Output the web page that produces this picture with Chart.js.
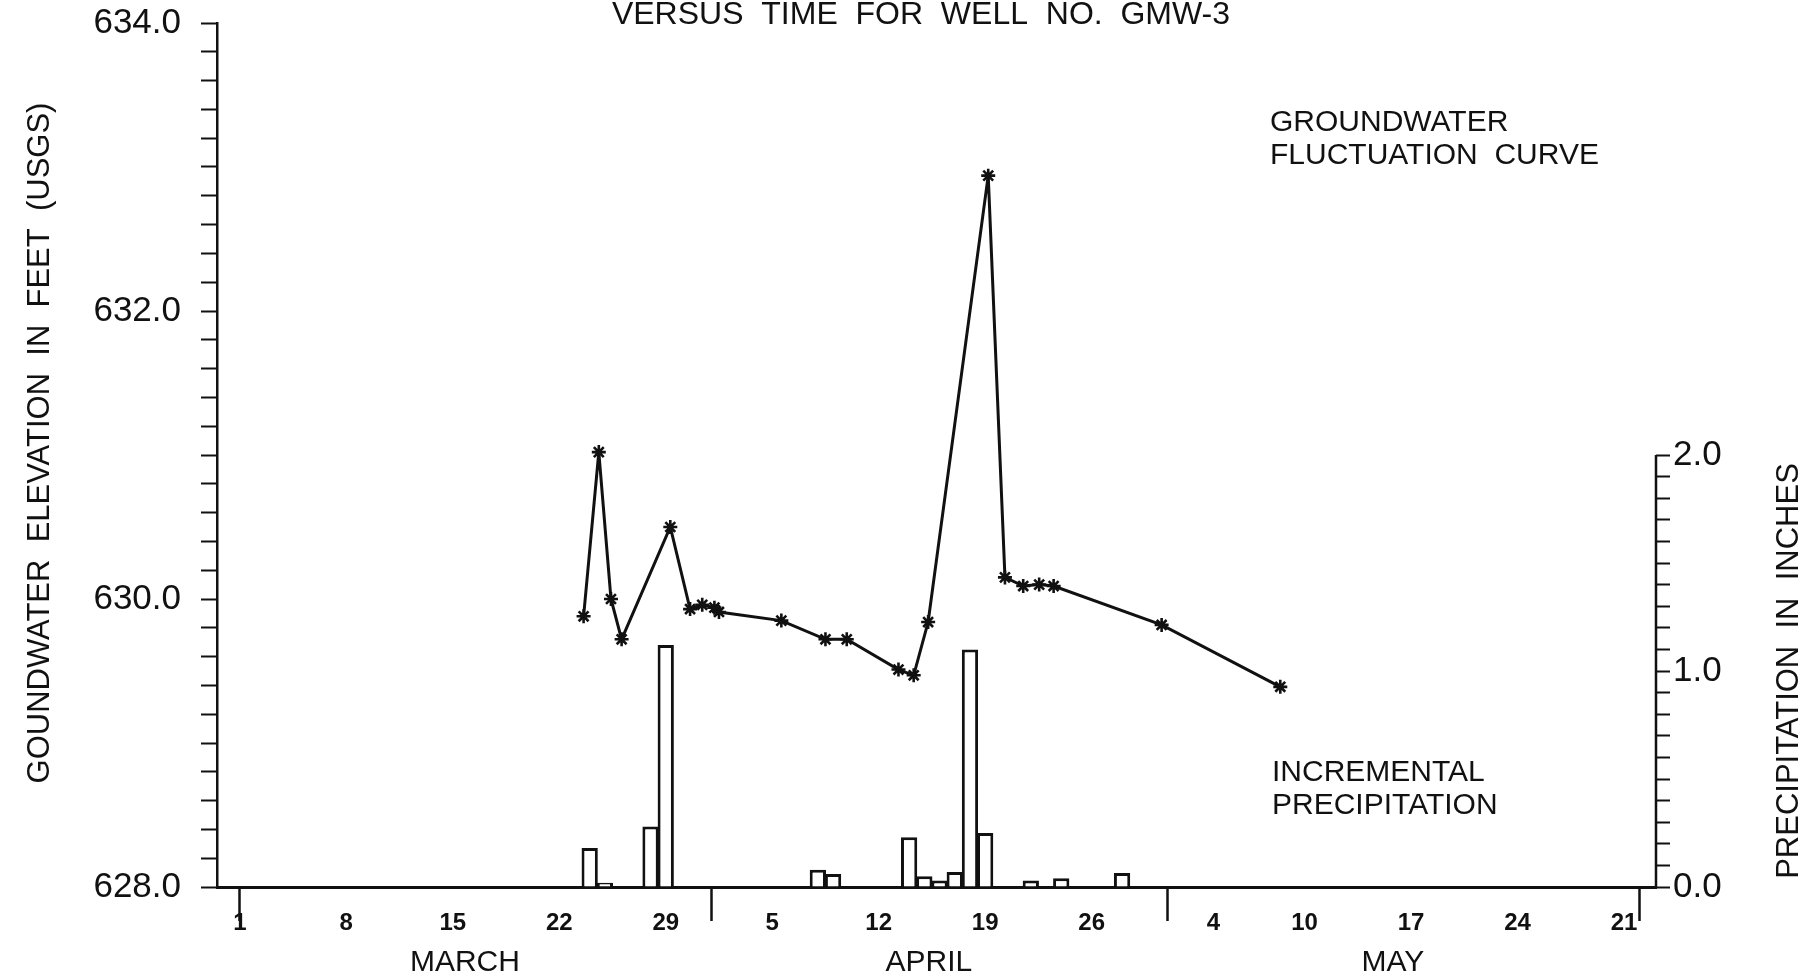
<!DOCTYPE html>
<html>
<head>
<meta charset="utf-8">
<title>Groundwater elevation versus time - GMW-3</title>
<script src="https://cdn.jsdelivr.net/npm/chart.js@4.4.1/dist/chart.umd.min.js"></script>
<style>
  html, body { margin: 0; padding: 0; background: #fff; }
  #wrap { width: 1813px; height: 980px; }
</style>
</head>
<body>
<div id="wrap"><canvas id="chart" width="1813" height="980"></canvas></div>
<script>
// x values are days counted from March 1 (= day 0)
const wellDays = [22.6, 23.6, 24.4, 25.1, 28.3, 29.6, 30.4, 31.2, 31.5, 35.6, 38.5, 39.9, 43.3, 44.3, 45.25, 49.2, 50.3, 51.5, 52.55, 53.5, 60.6, 68.4];
const wellElev = [629.88, 631.02, 630.00, 629.72, 630.50, 629.93, 629.96, 629.94, 629.91, 629.85, 629.72, 629.72, 629.51, 629.47, 629.84, 632.94, 630.15, 630.09, 630.10, 630.09, 629.82, 629.39];

const rainDays = [23, 24, 27, 28, 38, 39, 44, 45, 46, 47, 48, 49, 52, 54, 58];
const rainInches = [0.18, 0.02, 0.28, 1.12, 0.08, 0.06, 0.23, 0.05, 0.03, 0.07, 1.10, 0.25, 0.03, 0.04, 0.065];

const dayTicks = [0, 7, 14, 21, 28, 35, 42, 49, 56, 64, 70, 77, 84, 91];
const dayLabels = ['1', '8', '15', '22', '29', '5', '12', '19', '26', '4', '10', '17', '24', '21'];
const monthEdges = [0, 31, 61, 92];
const monthNames = ['MARCH', 'APRIL', 'MAY'];

const FONT = '"Liberation Sans", Arial, sans-serif';
const INK = '#111';

Chart.defaults.font.family = FONT;
Chart.defaults.color = INK;

const isMultiple = (v, step) => Math.abs(v / step - Math.round(v / step)) < 1e-6;

// extra texts and the short right axis line
const decor = {
  id: 'decor',
  afterDraw(chart) {
    const { ctx, chartArea, scales } = chart;
    const x = scales.x, y2 = scales.y2;
    ctx.save();
    ctx.strokeStyle = INK;
    ctx.lineWidth = 2.5;
    ctx.beginPath();
    ctx.moveTo(chartArea.right, y2.getPixelForValue(0));
    ctx.lineTo(chartArea.right, y2.getPixelForValue(2));
    ctx.stroke();

    ctx.fillStyle = INK;
    ctx.textBaseline = 'middle';

    ctx.font = '30px ' + FONT;
    ctx.textAlign = 'center';
    monthNames.forEach((m, i) => {
      ctx.fillText(m, x.getPixelForValue((monthEdges[i] + monthEdges[i + 1]) / 2 - 0.7), 963);
    });

    ctx.font = '32px ' + FONT;
    ctx.textBaseline = 'alphabetic';
    ctx.fillText('VERSUS  TIME  FOR  WELL  NO.  GMW-3', 921, 24);

    ctx.font = '31px ' + FONT;
    ctx.textBaseline = 'middle';
    ctx.save();
    ctx.translate(40, 443);
    ctx.rotate(-Math.PI / 2);
    ctx.fillText('GOUNDWATER  ELEVATION  IN  FEET  (USGS)', 0, 0);
    ctx.restore();

    ctx.save();
    ctx.translate(1789, (y2.getPixelForValue(0) + y2.getPixelForValue(2)) / 2);
    ctx.rotate(-Math.PI / 2);
    ctx.fillText('PRECIPITATION  IN  INCHES', 0, 0);
    ctx.restore();

    ctx.font = '30px ' + FONT;
    ctx.textAlign = 'left';
    ctx.fillText('GROUNDWATER', 1270, 123);
    ctx.fillText('FLUCTUATION  CURVE', 1270, 156);
    ctx.fillText('INCREMENTAL', 1272, 773);
    ctx.fillText('PRECIPITATION', 1272, 806);
    ctx.restore();
  }
};

new Chart(document.getElementById('chart'), {
  type: 'bar',
  data: {
    datasets: [
      {
        type: 'line',
        label: 'Groundwater fluctuation curve',
        data: wellDays.map((d, i) => ({ x: d, y: wellElev[i] })),
        yAxisID: 'y',
        borderColor: INK,
        borderWidth: 3,
        tension: 0,
        pointStyle: 'star',
        pointRadius: 7,
        pointBorderWidth: 2.6,
        pointBorderColor: INK,
        pointBackgroundColor: INK,
        order: 1
      },
      {
        type: 'bar',
        label: 'Incremental precipitation',
        data: rainDays.map((d, i) => ({ x: d, y: rainInches[i] })),
        yAxisID: 'y2',
        backgroundColor: '#fff',
        borderColor: INK,
        borderWidth: 3,
        barPercentage: 1.07,
        categoryPercentage: 1,
        order: 2
      }
    ]
  },
  options: {
    responsive: false,
    maintainAspectRatio: false,
    devicePixelRatio: 1,
    animation: false,
    layout: { padding: { top: 23, left: 0, right: 0, bottom: 0 } },
    plugins: {
      legend: { display: false },
      tooltip: { enabled: false }
    },
    scales: {
      x: {
        type: 'linear',
        min: -1.5,
        max: 93.1,
        offset: false,
        afterBuildTicks(s) {
          const vals = [...new Set(dayTicks.concat(monthEdges))].sort((a, b) => a - b);
          s.ticks = vals.map(v => ({ value: v }));
        },
        afterFit(s) { s.height = 93; s.paddingLeft = 0; s.paddingRight = 0; },
        ticks: {
          autoSkip: false,
          maxRotation: 0,
          padding: -12,
          color: INK,
          font: { size: 24, weight: 'bold' },
          callback(v) {
            const i = dayTicks.indexOf(v);
            return i < 0 ? '' : dayLabels[i];
          }
        },
        grid: {
          offset: false,
          drawOnChartArea: false,
          tickLength: 34,
          tickWidth: 2.5,
          tickColor: c => (c.tick && monthEdges.includes(c.tick.value)) ? INK : 'rgba(0,0,0,0)'
        },
        border: { color: INK, width: 3 }
      },
      y: {
        position: 'left',
        min: 628,
        max: 634,
        afterFit(s) { s.width = 217; s.paddingTop = 0; s.paddingBottom = 0; },
        ticks: {
          stepSize: 0.2,
          autoSkip: false,
          padding: 20,
          color: INK,
          font: { size: 35 },
          callback: v => isMultiple(v, 2) ? v.toFixed(1) : ''
        },
        grid: { drawOnChartArea: false, tickLength: 16, tickWidth: 2, tickColor: INK },
        border: { color: INK, width: 2.5 }
      },
      y2: {
        position: 'right',
        min: 0,
        max: 4,
        afterBuildTicks(s) { s.ticks = s.ticks.filter(t => t.value <= 2.0001); },
        afterFit(s) { s.width = 157; s.paddingTop = 0; s.paddingBottom = 0; },
        ticks: {
          stepSize: 0.1,
          autoSkip: false,
          padding: 3,
          color: INK,
          font: { size: 35 },
          callback: v => isMultiple(v, 1) ? v.toFixed(1) : ''
        },
        grid: { drawOnChartArea: false, tickLength: 14, tickWidth: 2, tickColor: INK },
        border: { display: false }
      }
    }
  },
  plugins: [decor]
});
</script>
</body>
</html>
